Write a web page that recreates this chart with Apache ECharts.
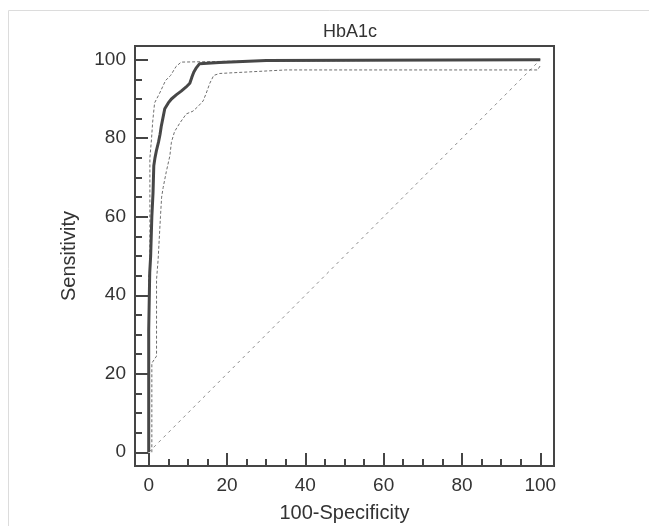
<!DOCTYPE html>
<html>
<head>
<meta charset="utf-8">
<script src="https://cdn.jsdelivr.net/npm/echarts@6/dist/echarts.min.js"></script>
<style>
  html, body { margin: 0; padding: 0; background: #fff; }
  #main { width: 649px; height: 526px; }
</style>
</head>
<body>
<div id="main"></div>
<script>
var myChart = echarts.init(document.getElementById('main'));

// ROC curve for HbA1c
var rocX = [0, 0, 0.26, 0.26, 0.5, 0.8, 1.1, 1.3, 1.6, 2.0, 2.5, 2.9, 3.2, 3.6, 4.1, 5.0, 5.8, 7.1, 8.3, 9.5, 10.5, 11.0, 11.5, 12.2, 13, 18, 30, 100];
var rocY = [0, 31, 31, 45.7, 50, 60, 66, 73, 75, 77, 79, 81, 83, 85, 87.5, 89, 90, 91.1, 92, 93, 94, 95.5, 96.8, 98, 99, 99.3, 99.8, 100];

// upper confidence bound
var upperX = [0, 0, 0.3, 0.3, 0.7, 1.0, 1.5, 2.8, 4.3, 5.6, 7.0, 8.3, 20, 100];
var upperY = [0, 45, 46, 75, 79.6, 84, 89, 91.5, 94.7, 96, 98.3, 99.4, 99.6, 100];

// lower confidence bound
var lowerX = [0.8, 0.8, 2.0, 2.0, 2.4, 3.0, 3.3, 3.7, 4.5, 5.4, 5.8, 6.6, 7.9, 9.6, 11.3, 12.6, 13.9, 14.7, 15.6, 16.6, 18.1, 35, 99.3, 100];
var lowerY = [0, 22.7, 24.5, 44, 49, 60, 65, 67.5, 71.5, 75.5, 79, 81.7, 83.8, 86.2, 86.9, 88.1, 89.5, 91.5, 94, 96, 96.5, 97.4, 97.4, 98.5];

// reference diagonal
var diagX = [0, 100];
var diagY = [0, 100];

var majorTicks = [0, 20, 40, 60, 80, 100];
var minorTicks = [5, 10, 15, 25, 30, 35, 45, 50, 55, 65, 70, 75, 85, 90, 95];

function pairs(xs, ys) {
	return xs.map(function(x, i) { return [x, ys[i]]; });
}

var textColor = '#333';
var frameColor = '#454545';
var font = 'Liberation Sans, Arial, sans-serif';

function majorAxis(name, gap, margin) {
	return {
		type: 'value',
		min: -3.5,
		max: 103.5,
		name: name,
		nameLocation: 'middle',
		nameGap: gap,
		nameTextStyle: { color: textColor, fontSize: 20, fontFamily: font },
		axisLine: { show: true, onZero: false, lineStyle: { color: frameColor, width: 2 } },
		axisTick: { show: true, inside: true, length: 13, customValues: majorTicks,
			lineStyle: { color: frameColor, width: 2 } },
		axisLabel: { show: true, customValues: majorTicks, margin: margin,
			color: textColor, fontSize: 19, fontFamily: font },
		splitLine: { show: false }
	};
}

function minorAxis() {
	return {
		type: 'value',
		min: -3.5,
		max: 103.5,
		axisLine: { show: false, onZero: false },
		axisTick: { show: true, inside: true, length: 7, customValues: minorTicks,
			lineStyle: { color: frameColor, width: 2 } },
		axisLabel: { show: false },
		splitLine: { show: false }
	};
}

var xMain = majorAxis('100-Specificity', 37, 10);
var yMain = majorAxis('Sensitivity', 56, 9);
var xMinor = minorAxis(); xMinor.position = 'bottom';
var yMinor = minorAxis(); yMinor.position = 'left';

var option = {
	animation: false,
	title: {
		text: 'HbA1c',
		left: 345,
		top: 18,
		textAlign: 'center',
		textStyle: { color: textColor, fontSize: 18, fontWeight: 'normal', fontFamily: font }
	},
	grid: {
		left: 135,
		top: 46,
		width: 419,
		height: 420,
		outerBoundsMode: 'none',
		show: true,
		borderColor: frameColor,
		borderWidth: 2,
		backgroundColor: 'transparent'
	},
	graphic: [{
		type: 'rect',
		shape: { x: 8.5, y: 10.5, width: 700, height: 600 },
		style: { fill: 'none', stroke: '#dcdcdc', lineWidth: 1 },
		z: -1
	}],
	xAxis: [xMain, xMinor],
	yAxis: [yMain, yMinor],
	series: [{
			name: 'diagonal',
			type: 'line',
			data: pairs(diagX, diagY),
			showSymbol: false,
			lineStyle: { color: '#8c8c8c', width: 1, type: [3, 4] },
			z: 1
		},
		{
			name: 'lower',
			type: 'line',
			data: pairs(lowerX, lowerY),
			showSymbol: false,
			lineStyle: { color: '#6e6e6e', width: 1, type: [3, 2] },
			z: 2
		},
		{
			name: 'upper',
			type: 'line',
			data: pairs(upperX, upperY),
			showSymbol: false,
			lineStyle: { color: '#6e6e6e', width: 1, type: [3, 2] },
			z: 2
		},
		{
			name: 'HbA1c',
			type: 'line',
			data: pairs(rocX, rocY),
			showSymbol: false,
			lineStyle: { color: '#474747', width: 3 },
			z: 3
		}
	]
};

myChart.setOption(option);
</script>
</body>
</html>
